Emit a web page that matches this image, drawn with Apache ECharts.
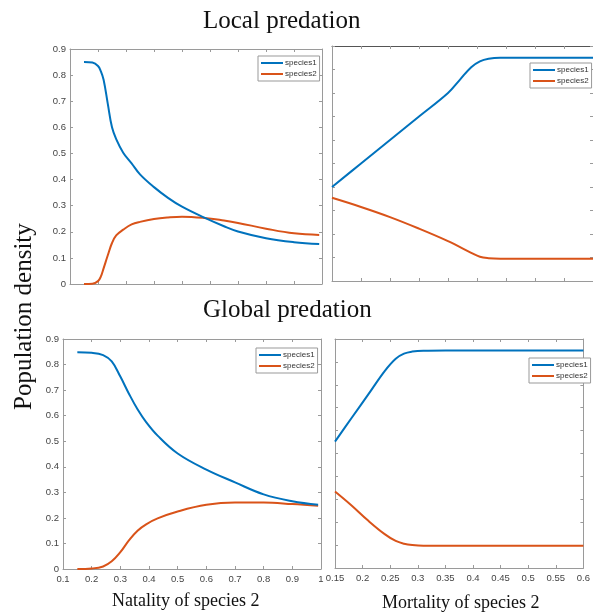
<!DOCTYPE html>
<html>
<head>
<meta charset="utf-8">
<script src="https://cdn.jsdelivr.net/npm/echarts@6/dist/echarts.min.js"></script>
<style>
  html, body { margin: 0; padding: 0; background: #fff; }
  #chart { width: 593px; height: 615px; }
</style>
</head>
<body>
<div id="chart"></div>
<script>
// Local predation, natality sweep
const localNatality = [0.15, 0.18, 0.2, 0.21, 0.22, 0.235, 0.25, 0.265, 0.29, 0.32, 0.35, 0.4, 0.45, 0.5, 0.58, 0.65, 0.7, 0.8, 0.9, 0.99];
const localNatS1 = [0.850, 0.848, 0.835, 0.815, 0.782, 0.690, 0.600, 0.555, 0.503, 0.462, 0.420, 0.371, 0.330, 0.296, 0.254, 0.221, 0.201, 0.175, 0.160, 0.153];
const localNatS2 = [0.000, 0.001, 0.011, 0.028, 0.060, 0.110, 0.157, 0.186, 0.208, 0.228, 0.238, 0.249, 0.255, 0.258, 0.253, 0.243, 0.234, 0.212, 0.194, 0.188];

// Local predation, mortality sweep
const localMortality = [0.15, 0.2, 0.25, 0.3, 0.35, 0.37, 0.39, 0.405, 0.42, 0.44, 0.5, 0.6];
const localMortS1 = [0.400, 0.500, 0.600, 0.700, 0.800, 0.855, 0.910, 0.935, 0.946, 0.950, 0.950, 0.950];
const localMortS2 = [0.354, 0.315, 0.272, 0.223, 0.170, 0.145, 0.120, 0.103, 0.097, 0.095, 0.095, 0.095];

// Global predation, natality sweep
const globalNatality = [0.15, 0.2, 0.24, 0.27, 0.3, 0.33, 0.36, 0.39, 0.43, 0.5, 0.6, 0.7, 0.8, 0.9, 0.99];
const globalNatS1 = [0.848, 0.846, 0.837, 0.812, 0.753, 0.686, 0.625, 0.575, 0.522, 0.452, 0.389, 0.339, 0.292, 0.265, 0.251];
const globalNatS2 = [0.000, 0.002, 0.010, 0.030, 0.066, 0.112, 0.150, 0.175, 0.198, 0.225, 0.251, 0.260, 0.260, 0.254, 0.247];

// Global predation, mortality sweep
const globalMortality = [0.15, 0.18, 0.21, 0.24, 0.26, 0.275, 0.29, 0.31, 0.35, 0.6];
const globalMortS1 = [0.552, 0.655, 0.757, 0.860, 0.914, 0.936, 0.945, 0.949, 0.950, 0.950];
const globalMortS2 = [0.334, 0.273, 0.207, 0.148, 0.118, 0.106, 0.100, 0.097, 0.097, 0.097];

const seriesNames = ['species1', 'species2'];
const colors = ['#0072BD', '#D95319'];

const panels = [
  { grid: { left: 70, top: 49, width: 252, height: 235 }, x: localNatality, ys: [localNatS1, localNatS2],
    xMin: 0.1, xMax: 1, xStep: 0.1, yMax: 0.9, xLabels: false, yLabels: true,
    legend: { left: 258, top: 56, width: 58 } },
  { grid: { left: 332, top: 46, width: 262, height: 235 }, x: localMortality, ys: [localMortS1, localMortS2],
    xMin: 0.15, xMax: 0.6, xStep: 0.05, yMax: 1, xLabels: false, yLabels: false,
    legend: { left: 530, top: 63, width: 58 } },
  { grid: { left: 63, top: 339, width: 258, height: 230 }, x: globalNatality, ys: [globalNatS1, globalNatS2],
    xMin: 0.1, xMax: 1, xStep: 0.1, yMax: 0.9, xLabels: true, yLabels: true,
    legend: { left: 256, top: 348, width: 60 } },
  { grid: { left: 335, top: 339, width: 255, height: 229 }, x: globalMortality, ys: [globalMortS1, globalMortS2],
    xMin: 0.15, xMax: 0.6, xStep: 0.05, yMax: 1, xLabels: true, yLabels: false,
    legend: { left: 529, top: 358, width: 60 } }
];

const axisColor = '#9a9a9a';
const labelStyle = { color: '#444', fontSize: 9.5, fontFamily: 'Liberation Sans, Arial, sans-serif' };

const grid = [], xAxis = [], yAxis = [], series = [], legend = [];

panels.forEach((p, i) => {
  grid.push(Object.assign({ containLabel: false }, p.grid));
  const tick = { show: true, inside: true, length: 3, lineStyle: { color: axisColor, width: 1 } };
  const line = { show: true, onZero: false, lineStyle: { color: axisColor, width: 1 } };
  const xBase = { type: 'value', gridIndex: i, min: p.xMin, max: p.xMax, interval: p.xStep,
    axisLine: line, axisTick: tick, splitLine: { show: false } };
  xAxis.push(Object.assign({}, xBase, { position: 'bottom',
    axisLabel: Object.assign({ show: p.xLabels, margin: 5 }, labelStyle) }));
  xAxis.push(Object.assign({}, xBase, { position: 'top',
    axisLine: i === 1 ? { show: true, onZero: false, lineStyle: { color: '#555', width: 1 } } : line,
    axisLabel: { show: false } }));
  const yBase = { type: 'value', gridIndex: i, min: 0, max: p.yMax, interval: 0.1,
    axisLine: line, axisTick: tick, splitLine: { show: false } };
  yAxis.push(Object.assign({}, yBase, { position: 'left',
    axisLabel: Object.assign({ show: p.yLabels, margin: 4 }, labelStyle) }));
  yAxis.push(Object.assign({}, yBase, { position: 'right', axisLabel: { show: false } }));

  p.ys.forEach((ys, k) => {
    series.push({
      type: 'line', name: seriesNames[k], xAxisIndex: 2 * i, yAxisIndex: 2 * i,
      data: p.x.map((xv, j) => [xv, ys[j]]),
      smooth: 0.4, showSymbol: false, symbol: 'none',
      lineStyle: { color: colors[k], width: 2 }, itemStyle: { color: colors[k] },
      z: 3 + (1 - k)
    });
  });

  legend.push({
    left: p.legend.left, top: p.legend.top, width: p.legend.width,
    orient: 'vertical', data: seriesNames, icon: 'rect', itemWidth: 22, itemHeight: 2,
    itemGap: 3, padding: [3, 3, 3, 3], backgroundColor: '#fff',
    borderColor: '#999', borderWidth: 1, borderRadius: 0, selectedMode: false,
    textStyle: { fontSize: 8, color: '#333', fontFamily: 'Liberation Sans, Arial, sans-serif', padding: [0, 0, 0, -3] }
  });
});

const serif = 'Liberation Serif, "Times New Roman", serif';

const option = {
  animation: false,
  backgroundColor: '#fff',
  color: colors,
  grid, xAxis, yAxis, series, legend,
  graphic: [
    { type: 'text', left: 203, top: 9, style: { text: 'Local predation', font: '25px ' + serif, fill: '#111' } },
    { type: 'text', left: 203, top: 298, style: { text: 'Global predation', font: '25px ' + serif, fill: '#111' } },
    { type: 'text', left: 112, top: 592, style: { text: 'Natality of species 2', font: '18px ' + serif, fill: '#111' } },
    { type: 'text', left: 382, top: 594, style: { text: 'Mortality of species 2', font: '18px ' + serif, fill: '#111' } },
    { type: 'text', rotation: Math.PI / 2, x: 12, y: 410, style: { text: 'Population density', font: '25px ' + serif, fill: '#111', textVerticalAlign: 'top' } }
  ]
};

const chart = echarts.init(document.getElementById('chart'), null, { renderer: 'canvas' });
chart.setOption(option);
</script>
</body>
</html>
